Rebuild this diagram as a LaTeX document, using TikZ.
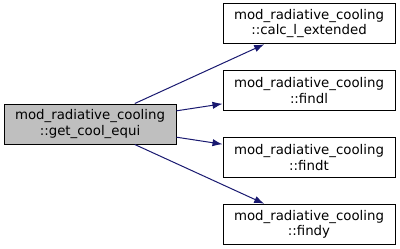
\documentclass[tikz,border=0pt]{standalone}
\usepackage{fontspec}
\setmainfont{DejaVu Sans}
\usetikzlibrary{arrows.meta, positioning}
\definecolor{edgeblue}{HTML}{191970}
\definecolor{rootgray}{HTML}{BFBFBF}
\tikzset{callgraph/.style={
    func/.style={rectangle, draw=black, line width=0.75pt, minimum width=129pt, minimum height=30pt, inner sep=1pt, align=center, fill=white, font=\fontsize{10}{11.5}\selectfont},
    root/.style={func, fill=rootgray},
    edge from parent/.style={line width=0.75pt, -{Latex[length=7.5pt, width=5.5pt]}, edgeblue, draw},
    grow'=right, level distance=164.25pt, sibling distance=50.1pt,
}}

\begin{document}
\begin{tikzpicture}[callgraph, x=0.75pt, y=-0.75pt]
    \useasboundingbox (0,0) rectangle (400,248);
    \node[root] (getcool) at (90,124) {mod\_radiative\_cooling\\::get\_cool\_equi}
        child { node[func] (calcl) {mod\_radiative\_cooling\\::calc\_l\_extended} }
        child { node[func] (findl) {mod\_radiative\_cooling\\::findl} }
        child { node[func] (findt) {mod\_radiative\_cooling\\::findt} }
        child { node[func] (findy) {mod\_radiative\_cooling\\::findy} };
\end{tikzpicture}
\end{document}
